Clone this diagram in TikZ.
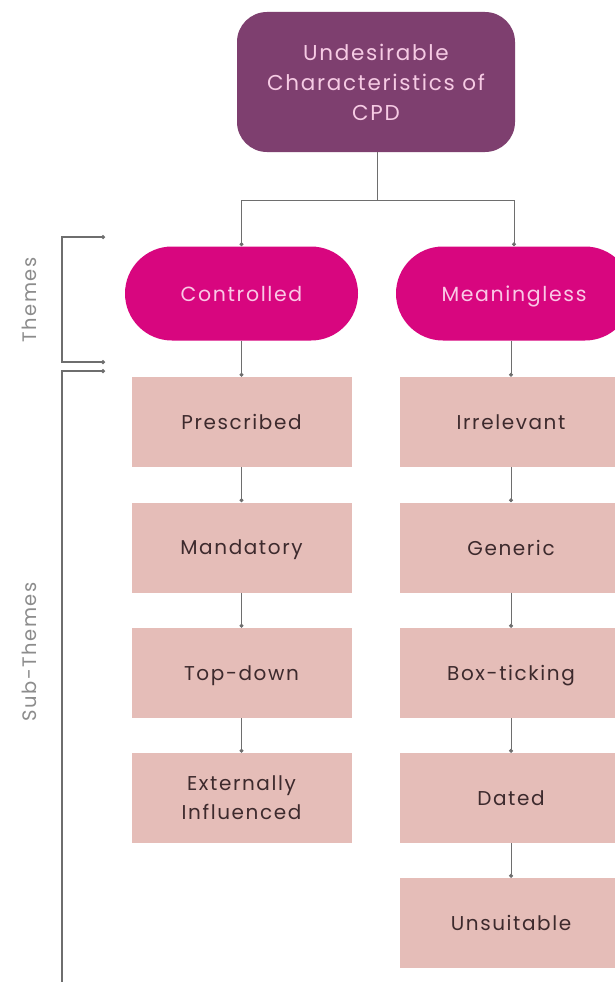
\documentclass[tikz,border=0pt]{standalone}
\usepackage{fontspec}
\setmainfont{Poppins}[LetterSpace=8]
\usetikzlibrary{arrows.meta}
\definecolor{rootfill}{HTML}{7E3F6F}
\definecolor{rootText}{HTML}{F6CBE4}
\definecolor{themefill}{HTML}{D8067F}
\definecolor{themeText}{HTML}{FAC8E6}
\definecolor{subfill}{HTML}{E5BDB8}
\definecolor{subText}{HTML}{3D2A2D}
\definecolor{linegray}{HTML}{6E6E6E}
\definecolor{labelgray}{HTML}{8C8C8C}
\tikzset{
  rootbox/.style={fill=rootfill, text=rootText, rounded corners=30pt,
    minimum width=278pt, minimum height=140pt, align=center,
    font=\fontsize{21.5}{30}\selectfont},
  themebox/.style={fill=themefill, text=themeText, rounded corners=47pt,
    minimum height=94pt, text depth=0pt,
    font=\fontsize{20.5}{24}\selectfont},
  subbox/.style={fill=subfill, text=subText, minimum width=220pt,
    minimum height=90pt, text depth=0pt,
    font=\fontsize{20}{29}\selectfont},
  twoline/.style={align=center, text depth=, text height=},
  conn/.style={draw=linegray, line width=0.9pt},
  dotend/.style={conn, -{Circle[length=4pt]}},
  bracket/.style={draw=linegray, line width=1.2pt,
    {Circle[length=4pt]}-{Circle[length=4pt]}},
  sidelabel/.style={text=labelgray, rotate=90, font=\fontsize{19.5}{22}\selectfont}
}
\begin{document}
\begin{tikzpicture}[x=1pt,y=-1pt]
\useasboundingbox (0,0) rectangle (615,982);
\clip (0,0) rectangle (615,982);
\fill[white] (0,0) rectangle (615,982);

% root
\node[rootbox] (root) at (376,82) {Undesirable\\Characteristics of\\CPD};

% themes
\node[themebox, minimum width=233pt] (ctrl) at (241.5,293.5) {Controlled};
\node[themebox, minimum width=236pt] (mean) at (514,293.5) {Meaningless};

% sub-themes, left column
\node[subbox] (pre) at (241.5,422) {Prescribed};
\node[subbox] (man) at (241.5,547.5) {Mandatory};
\node[subbox] (top) at (241.5,673) {Top-down};
\node[subbox, twoline] (ext) at (241.5,798) {Externally\\Influenced};

% sub-themes, right column
\node[subbox, minimum width=222pt] (irr) at (511,422) {Irrelevant};
\node[subbox, minimum width=222pt] (gen) at (511,547.5) {Generic};
\node[subbox, minimum width=222pt] (box) at (511,673) {Box-ticking};
\node[subbox, minimum width=222pt] (dat) at (511,798) {Dated};
\node[subbox, minimum width=222pt] (uns) at (511,923) {Unsuitable};

% tree connectors
\coordinate (split) at (377,200);
\draw[conn] (root.south -| split) -- (split);
\draw[dotend] (split) -| (ctrl.north);
\draw[dotend] (split) -| (mean.north);
\draw[dotend] (ctrl.south) -- (pre.north);
\draw[dotend] (pre.south) -- (man.north);
\draw[dotend] (man.south) -- (top.north);
\draw[dotend] (top.south) -- (ext.north);
\draw[dotend] (mean.south -| irr.north) -- (irr.north);
\draw[dotend] (irr.south) -- (gen.north);
\draw[dotend] (gen.south) -- (box.north);
\draw[dotend] (box.south) -- (dat.north);
\draw[dotend] (dat.south) -- (uns.north);

% side brackets
\coordinate (thA) at (105,237);
\coordinate (thB) at (105,362);
\coordinate (stA) at (105,371);
\coordinate (stB) at (62,990);
\draw[bracket] (thA) -- (62,237) -- (62,362) -- (thB);
\draw[draw=linegray, line width=1.2pt, {Circle[length=4pt]}-] (stA) -- (62,371) -- (stB);
\node[sidelabel] (thL) at (29,300) {Themes};
\node[sidelabel] (stL) at (29,652) {Sub-Themes};
\end{tikzpicture}
\end{document}
